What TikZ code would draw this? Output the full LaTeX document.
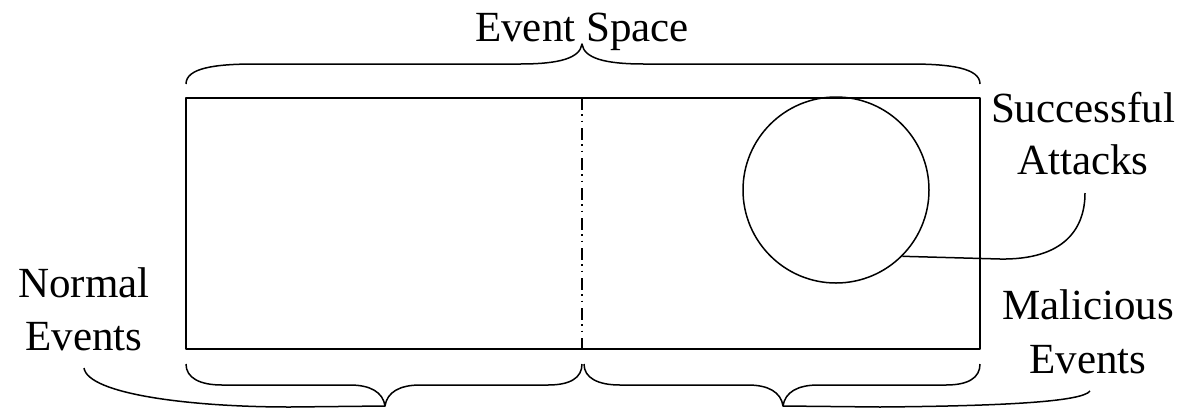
\documentclass[tikz,border=0pt]{standalone}
\usepackage{fontspec}
\setmainfont{Liberation Serif}
\begin{document}
\begin{tikzpicture}[x=1pt,y=-1pt,
  line/.style={line width=1.5pt, line join=round},
  label/.style={font=\fontsize{43}{52}\selectfont, inner sep=0pt, anchor=base}]
\useasboundingbox (0,0) rectangle (1184,408);
% main rectangle
\draw[line] (186,98) rectangle (980,349);
% separator
\coordinate (sepTop) at (582,98);
\coordinate (sepBot) at (582,349);
\draw[line width=1.3pt, dash pattern=on 12pt off 4pt on 1.5pt off 5pt on 1.5pt off 6pt] (sepTop) -- (sepBot);
% circle
\node[line, draw, circle, minimum size=186pt, inner sep=0pt] (circ) at (836,190) {};
% labels
\node[label] (es) at (582,41) {Event Space};
\node[label] (sa1) at (1083,122) {Successful};
\node[label] (sa2) at (1083,174) {Attacks};
\node[label] (ne1) at (84,297) {Normal};
\node[label] (ne2) at (84,350) {Events};
\node[label] (me1) at (1088,319) {Malicious};
\node[label] (me2) at (1088,373) {Events};
% connector circle -> Successful Attacks
\coordinate (saEnd) at (1085,193);
\draw[line] (circ.-45) -- (1000,259) .. controls (1065,260) and (1085,228) .. (saEnd);
% top brace
\coordinate (topTip) at (582,44);
\draw[line] (186,84) .. controls (186,68) and (215,64) .. (255,64) -- (520,64)
  .. controls (560,64) and (580,58) .. (topTip)
  .. controls (584,58) and (604,64) .. (644,64) -- (910,64)
  .. controls (950,64) and (980,68) .. (980,84);
% bottom left small brace
\coordinate (blTip) at (385,406);
\draw[line] (186,364) .. controls (186,378) and (200,385) .. (222,385) -- (350,385)
  .. controls (370,385) and (383,392) .. (blTip)
  .. controls (387,392) and (400,385) .. (420,385) -- (548,385)
  .. controls (570,385) and (582,378) .. (582,364);
% bottom right small brace
\coordinate (brTip) at (783,406);
\draw[line] (584,364) .. controls (584,378) and (598,385) .. (620,385) -- (748,385)
  .. controls (768,385) and (781,392) .. (brTip)
  .. controls (785,392) and (798,385) .. (818,385) -- (946,385)
  .. controls (968,385) and (980,378) .. (980,364);
% Normal Events brace half
\draw[line] (84,368) .. controls (88,394) and (190,407) .. (290,407) -- (blTip);
% Malicious Events brace half
\draw[line] (brTip) -- (880,407) .. controls (1000,406) and (1082,402) .. (1090,391);
\end{tikzpicture}
\end{document}
